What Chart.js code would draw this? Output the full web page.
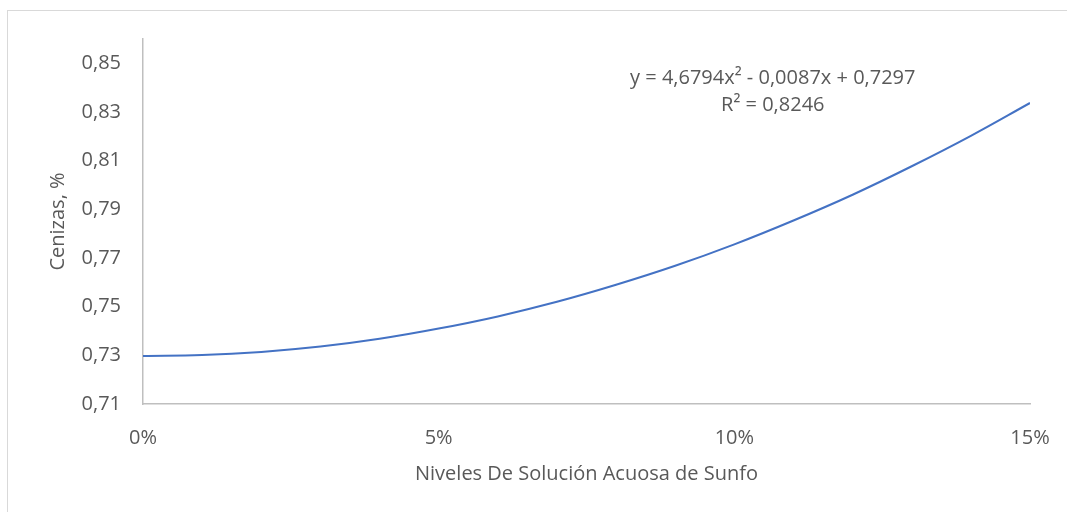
<!DOCTYPE html>
<html>
<head>
<meta charset="utf-8">
<script src="https://cdn.jsdelivr.net/npm/chart.js@4.4.1/dist/chart.umd.min.js"></script>
<style>
  html,body{margin:0;padding:0;background:#fff;}
  #wrap{position:relative;width:1067px;height:512px;overflow:hidden;}
  #frame{position:absolute;left:7px;top:10px;width:1100px;height:600px;border:1px solid #d9d9d9;box-sizing:border-box;}
  canvas{position:absolute;left:0;top:0;}
</style>
</head>
<body>
<div id="wrap">
  <div id="frame"></div>
  <canvas id="chart" width="1067" height="512"></canvas>
</div>
<script>
// nivel de solución (%) y cenizas
const niveles = [0,1,2,3,4,5,6,7,8,9,10,11,12,13,14,15];
const cenizas = [0.7297,0.7301,0.7314,0.7336,0.7368,0.7410,0.7460,0.7520,0.7590,0.7668,0.7756,0.7854,0.7960,0.8077,0.8202,0.8337];
const yTicks = [0.71,0.73,0.75,0.77,0.79,0.81,0.83,0.85];
const xTicks = [0,5,10,15];
const ecuacion = ['y = 4,6794x\u00b2 - 0,0087x + 0,7297', 'R\u00b2 = 0,8246'];

const FONT = "'Open Sans', 'Liberation Sans', sans-serif";
const GREY = '#595959';
const AXIS = '#bfbfbf';

const eqPlugin = {
  id:'eq',
  afterDraw(c){
    const ctx = c.ctx, a = c.chartArea;
    const cx = a.left + (a.right - a.left) * 0.71;
    ctx.save();
    ctx.fillStyle = GREY;
    ctx.font = '20px ' + FONT;
    ctx.textAlign = 'center';
    ctx.textBaseline = 'middle';
    ctx.fillText(ecuacion[0], cx, a.top + 39);
    ctx.fillText(ecuacion[1], cx, a.top + 66);
    ctx.restore();
  }
};

new Chart(document.getElementById('chart'), {
  type:'line',
  data:{datasets:[{
    data: niveles.map((x,i)=>({x:x, y:cenizas[i]})),
    borderColor:'#4472c4', borderWidth:2, pointRadius:0, tension:0.4, fill:false
  }]},
  options:{
    responsive:false, animation:false,
    layout:{padding:{left:0, top:39, right:37, bottom:0}},
    plugins:{legend:{display:false}, tooltip:{enabled:false}},
    scales:{
      x:{
        type:'linear', min:0, max:15,
        afterBuildTicks(s){ s.ticks = xTicks.map(v=>({value:v})); },
        afterFit(s){ s.height = 108; s.paddingLeft = 0; s.paddingRight = 0; },
        grid:{display:false, drawTicks:false},
        border:{color:AXIS, width:1.5},
        ticks:{color:GREY, font:{family:FONT, size:20}, padding:22, maxRotation:0, callback:v=>v+'%'},
        title:{display:true, text:'Niveles De Solución Acuosa de Sunfo', color:GREY, font:{family:FONT, size:20}, padding:{bottom:26}}
      },
      y:{
        min:0.71, max:0.86,
        afterBuildTicks(s){ s.ticks = yTicks.map(v=>({value:v})); },
        afterFit(s){ s.width = 143; },
        grid:{display:false, drawTicks:false},
        border:{color:AXIS, width:1.5},
        ticks:{color:GREY, font:{family:FONT, size:20}, padding:22, callback:v=>v.toFixed(2).replace('.',',')},
        title:{display:true, text:'Cenizas, %', color:GREY, font:{family:FONT, size:20}, padding:{top:46}}
      }
    }
  },
  plugins:[eqPlugin]
});
</script>
</body>
</html>
